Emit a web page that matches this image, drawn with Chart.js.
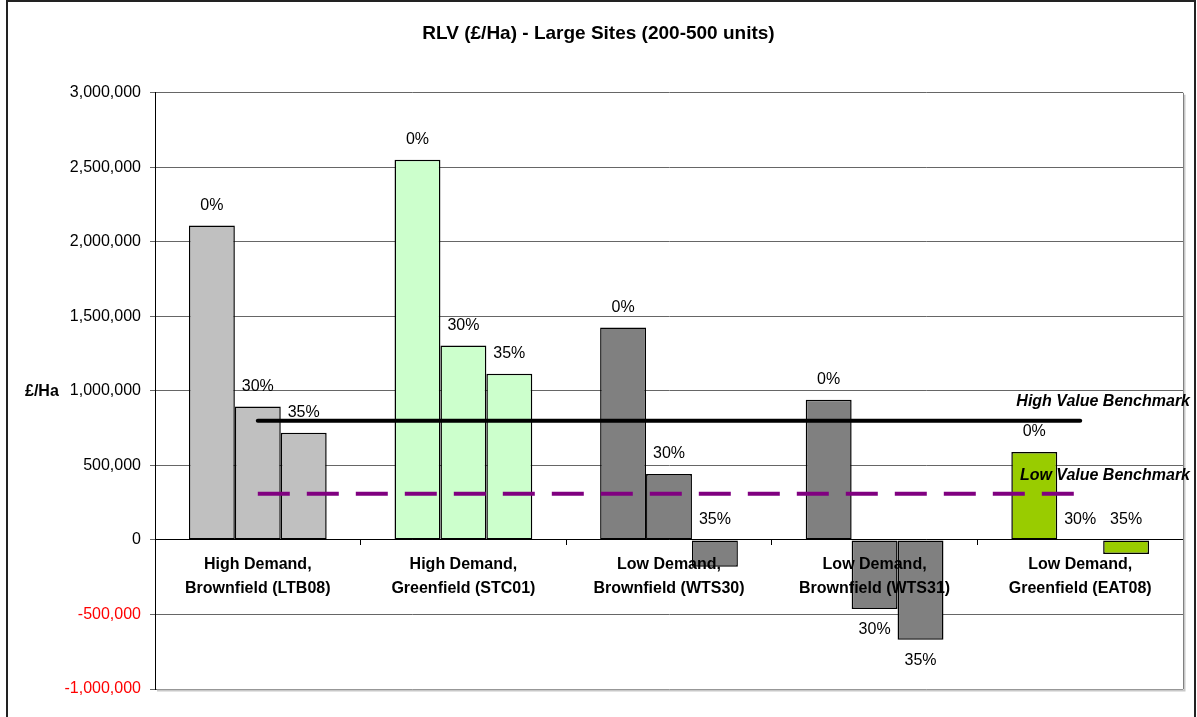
<!DOCTYPE html>
<html>
<head>
<meta charset="utf-8">
<title>RLV (£/Ha) - Large Sites</title>
<script src="https://cdn.jsdelivr.net/npm/chart.js@4.4.1/dist/chart.umd.min.js"></script>
<style>
  html, body { margin: 0; padding: 0; background: #fff; }
  #wrap { width: 1197px; height: 717px; }
</style>
</head>
<body>
<div id="wrap"><canvas id="chart" width="1197" height="717"></canvas></div>
<script>
// Données du graphique
const categories = [
    ['High Demand,', 'Brownfield (LTB08)'],
    ['High Demand,', 'Greenfield (STC01)'],
    ['Low Demand,', 'Brownfield (WTS30)'],
    ['Low Demand,', 'Brownfield (WTS31)'],
    ['Low Demand,', 'Greenfield (EAT08)']
];
const seriesNames = ['0%', '30%', '35%'];
const rlv0 = [2110000, 2550000, 1425000, 940000, 590000];
const rlv30 = [895000, 1305000, 443000, -463000, 0];
const rlv35 = [720000, 1115000, -180000, -670000, -95000];
const highBenchmark = [800000, 800000, 800000, 800000, 800000];
const lowBenchmark = [310000, 310000, 310000, 310000, 310000];
const groupColours = ['#C0C0C0', '#CCFFCC', '#808080', '#808080', '#99CC00'];

const FONT = 'Arial, "Liberation Sans", sans-serif';

function barDataset(label, data) {
    return {
        type: 'bar',
        label: label,
        data: data,
        backgroundColor: groupColours,
        borderColor: '#000',
        borderWidth: 1.5,
        borderSkipped: false,
        categoryPercentage: 0.67,
        barPercentage: 1.0,
        order: 2
    };
}

// Étiquettes 0% / 30% / 35% sur les barres, textes des repères, cadre
const decorations = {
    id: 'decorations',
    beforeDatasetsDraw(chart) {
        const { ctx, chartArea } = chart;
        ctx.save();
        // ombre et bord droit de la zone de tracé
        ctx.strokeStyle = '#C8C8C8';
        ctx.lineWidth = 2;
        ctx.beginPath();
        ctx.moveTo(chartArea.left + 2, chartArea.bottom + 1.5);
        ctx.lineTo(chartArea.right + 1.5, chartArea.bottom + 1.5);
        ctx.lineTo(chartArea.right + 1.5, chartArea.top + 2);
        ctx.stroke();
        ctx.strokeStyle = '#808080';
        ctx.lineWidth = 1;
        ctx.beginPath();
        ctx.moveTo(chartArea.right + 0.5, chartArea.top);
        ctx.lineTo(chartArea.right + 0.5, chartArea.bottom);
        ctx.stroke();
        ctx.restore();
    },
    afterDraw(chart) {
        const { ctx, chartArea } = chart;
        ctx.save();
        ctx.font = '16px ' + FONT;
        ctx.fillStyle = '#000';
        ctx.textAlign = 'center';
        ctx.textBaseline = 'middle';
        chart.data.datasets.forEach((ds, i) => {
            if (ds.type !== 'bar') return;
            const meta = chart.getDatasetMeta(i);
            meta.data.forEach((bar, j) => {
                const v = ds.data[j];
                let y;
                if (v >= 0) {
                    y = bar.y - 20;
                } else if (v > -300000) {
                    y = bar.base - 21;
                } else {
                    y = bar.y + 21;
                }
                ctx.fillText(ds.label, bar.x, y);
            });
        });

        // textes des repères
        const yScale = chart.scales.y;
        ctx.font = 'italic bold 16px ' + FONT;
        ctx.textAlign = 'right';
        ctx.fillText('High Value Benchmark', chartArea.right + 7, yScale.getPixelForValue(highBenchmark[0]) - 19);
        ctx.fillText('Low Value Benchmark', chartArea.right + 7, yScale.getPixelForValue(lowBenchmark[0]) - 18);

        // titre de l'axe Y
        ctx.font = 'bold 16px ' + FONT;
        ctx.textAlign = 'left';
        ctx.fillText('£/Ha', 25, yScale.getPixelForValue(1000000) + 1);

        // cadre extérieur
        ctx.strokeStyle = '#222';
        ctx.lineWidth = 2;
        ctx.strokeRect(7, 1, 1188, 730);
        ctx.restore();
    }
};

document.addEventListener('DOMContentLoaded', function() {
    const ctx = document.getElementById('chart').getContext('2d');
    new Chart(ctx, {
        data: {
            labels: categories,
            datasets: [
                {
                    type: 'line',
                    label: 'High Value Benchmark',
                    data: highBenchmark,
                    borderColor: '#000',
                    borderWidth: 4,
                    borderCapStyle: 'round',
                    pointRadius: 0,
                    fill: false,
                    order: 0
                },
                {
                    type: 'line',
                    label: 'Low Value Benchmark',
                    data: lowBenchmark,
                    borderColor: '#800080',
                    borderWidth: 4,
                    borderDash: [32, 17],
                    pointRadius: 0,
                    fill: false,
                    order: 1
                },
                barDataset(seriesNames[0], rlv0),
                barDataset(seriesNames[1], rlv30),
                barDataset(seriesNames[2], rlv35)
            ]
        },
        options: {
            responsive: false,
            animation: false,
            devicePixelRatio: 1,
            layout: { padding: { left: 14, right: 14, top: 0, bottom: 28 } },
            plugins: {
                legend: { display: false },
                tooltip: { enabled: false },
                title: {
                    display: true,
                    text: 'RLV (£/Ha) - Large Sites (200-500 units)',
                    color: '#000',
                    font: { family: FONT, size: 19, weight: 'bold', lineHeight: 1.2 },
                    padding: { top: 22, bottom: 48 }
                }
            },
            scales: {
                x: {
                    type: 'category',
                    position: { y: 0 },
                    offset: true,
                    grid: {
                        offset: true,
                        drawOnChartArea: false,
                        drawTicks: true,
                        tickLength: 5,
                        color: '#000'
                    },
                    border: { color: '#000', width: 1 },
                    ticks: {
                        z: 1,
                        color: '#000',
                        padding: 8,
                        maxRotation: 0,
                        autoSkip: false,
                        font: { family: FONT, size: 16, weight: 'bold', lineHeight: 1.5 }
                    }
                },
                y: {
                    min: -1000000,
                    max: 3000000,
                    afterFit(scale) { scale.width = 141; },
                    grid: {
                        color: '#666',
                        lineWidth: 1,
                        drawTicks: true,
                        tickLength: 5
                    },
                    border: { color: '#000', width: 1 },
                    ticks: {
                        stepSize: 500000,
                        padding: 9,
                        font: { family: FONT, size: 16 },
                        color: c => (c.tick && c.tick.value < 0) ? '#FF0000' : '#000',
                        callback: v => v.toLocaleString('en-US')
                    }
                }
            }
        },
        plugins: [decorations]
    });
});
</script>
</body>
</html>
